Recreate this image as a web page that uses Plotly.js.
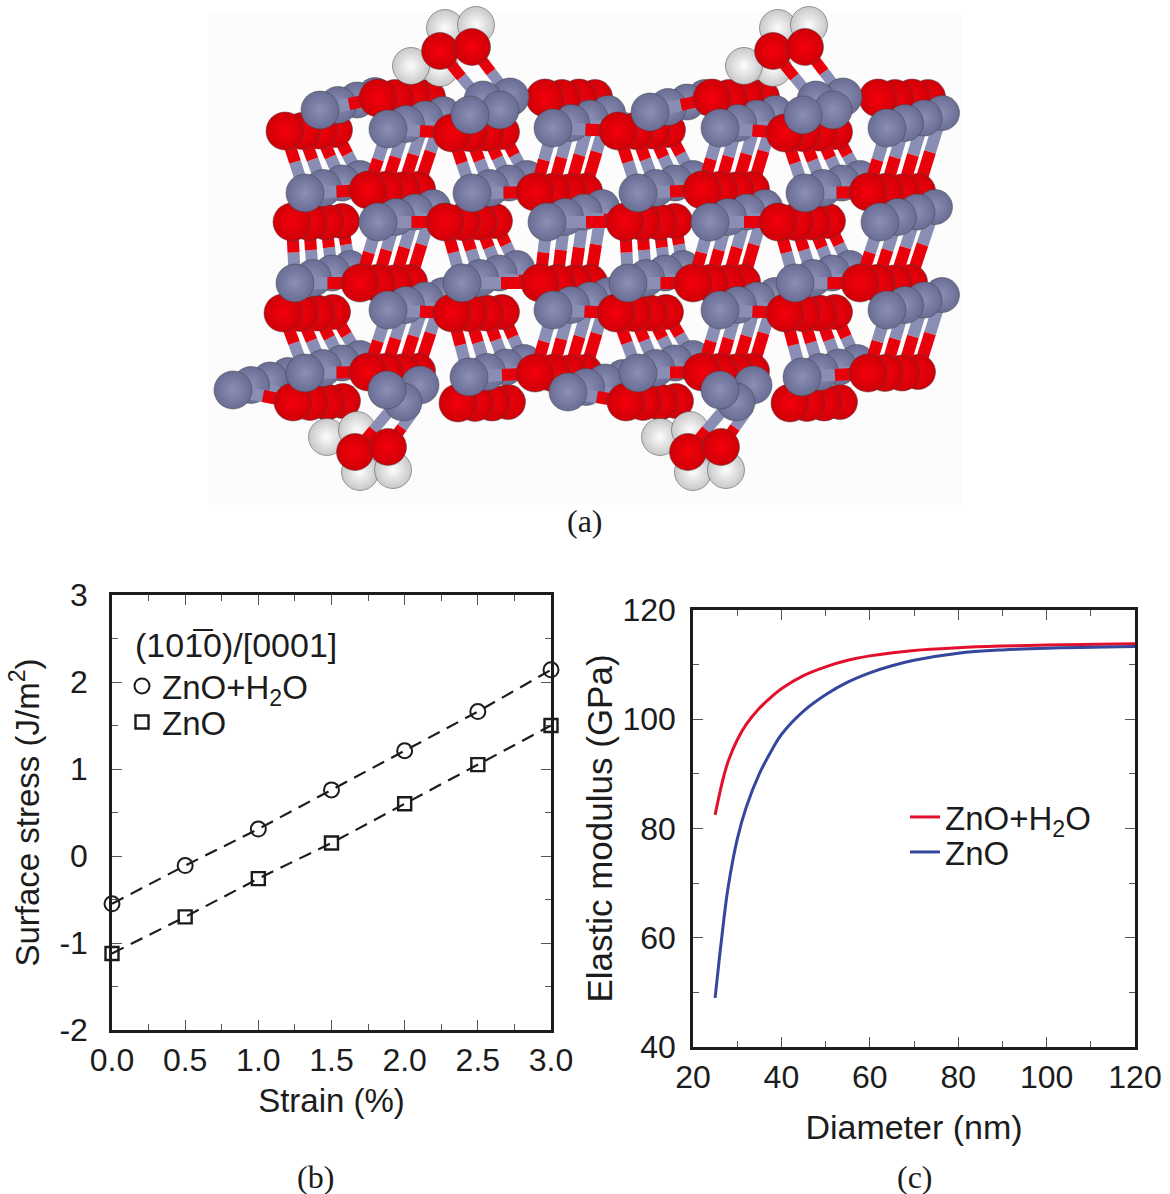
<!DOCTYPE html>
<html><head><meta charset="utf-8">
<script src="https://cdn.plot.ly/plotly-3.0.1.min.js"></script>
<style>html,body{margin:0;padding:0;background:#fff}</style></head>
<body><div id="chart" style="width:1170px;height:1194px"></div>
<script>
// ---- panel (b)
const strain=[0,0.5,1,1.5,2,2.5,3];
const strainLabels=['0.0','0.5','1.0','1.5','2.0','2.5','3.0'];
const stressTicks=[-2,-1,0,1,2,3];
const stressLabels=['-2','-1','0','1','2','3'];
const stressWater=[-0.55,-0.11,0.31,0.76,1.21,1.66,2.14];
const stressBare=[-1.12,-0.70,-0.26,0.15,0.60,1.05,1.50];
// ---- panel (c)
const diamWater=[25,26,27,28,30,32,35,38,40,45,50,55,60,70,80,90,100,120];
const modWater=[82.5,86.3,89.7,92.4,96.2,99,102,104.3,105.6,108,109.6,110.8,111.6,112.6,113.1,113.4,113.6,113.8];
const diamBare=[25,26,27,28,30,32,35,38,40,45,50,55,60,65,70,80,90,100,120];
const modBare=[49,56.5,63.5,69.5,78,83.8,90,94.6,97.2,101.5,104.5,106.8,108.5,109.8,110.8,112.1,112.7,113,113.3];
// ---- panel (a): atoms, rows top to bottom, Z = zinc, O = oxygen, . = empty
const rowElements=['ZO.OZO.O','OZOZOZOZ','ZOZOZOZO','OZOZOZOZ','ZOZOZOZO','OZOZOZOZ','ZOZOZOZO','ZO.OZO.O'];
const frontX=[[320,378,null,545,650,712,null,878],[285,388,452,553,618,720,785,887],[305,368,472,535,638,702,805,868],[292,378,445,547,625,710,778,880],[295,360,462,540,628,693,795,860],[283,388,452,553,616,720,785,887],[305,368,469,535,638,702,802,868],[233,293,null,458,568,626,null,790]];
const frontY=[[110,98,null,98,112,98,null,98],[131,129,133,128,131,128,133,128],[193,190,193,192,193,190,193,192],[222,222,222,222,222,222,222,222],[283,283,283,283,283,283,283,283],[313,310,313,310,313,310,313,310],[373,372,377,373,373,372,377,373],[390,402,null,403,392,402,null,403]];
const depth1X=[[338,395,null,562,668,729,null,895],[302,406,469,571,635,738,802,905],[323,385,490,552,656,719,823,885],[309,396,462,565,642,728,795,898],[313,377,480,557,646,710,813,877],[300,406,469,571,633,738,802,905],[323,385,487,552,656,719,820,885],[251,310,null,475,586,643,null,807]];
const depth1Y=[[105,98,null,98,107,98,null,98],[131,124,133,123,131,123,133,123],[188,190,188,192,188,190,188,192],[222,217,222,217,222,217,222,217],[278,283,278,283,278,283,278,283],[313,305,313,305,313,305,313,305],[368,372,372,373,368,372,372,373],[385,402,null,403,387,402,null,403]];
const depth2X=[[357,412,null,579,687,746,null,912],[319,425,486,590,652,757,819,924],[342,402,509,569,675,736,842,902],[326,415,479,584,659,747,812,917],[332,394,499,574,665,727,832,894],[317,425,486,590,650,757,819,924],[342,402,506,569,675,736,839,902],[270,327,null,492,605,660,null,824]];
const depth2Y=[[100,97,null,97,102,97,null,97],[131,119,133,118,131,118,133,118],[183,190,183,192,183,190,183,192],[222,212,222,212,222,212,222,212],[273,283,273,283,273,283,273,283],[313,300,313,300,313,300,313,300],[363,372,367,373,363,372,367,373],[380,402,null,403,382,402,null,403]];
const depth3X=[[375,428,null,595,705,762,null,928],[335,443,502,608,668,775,835,942],[360,418,527,585,693,752,860,918],[342,433,495,602,675,765,828,935],[350,410,517,590,683,743,850,910],[333,443,502,608,666,775,835,942],[360,418,524,585,693,752,857,918],[288,343,null,508,623,676,null,840]];
const depth3Y=[[95,97,null,97,97,97,null,97],[130,114,132,113,130,113,132,113],[178,189,178,191,178,189,178,191],[221,207,221,207,221,207,221,207],[268,282,268,282,268,282,268,282],[312,295,312,295,312,295,312,295],[358,371,362,372,358,371,362,372],[375,401,null,402,377,401,null,402]];
// water groups
const waterHX=[445,476,440,411, 778,809,773,744, 327,357,360,393, 660,690,693,726];
const waterHY=[28,25,68,66, 28,25,68,66, 437,430,472,470, 437,430,472,470];
const waterOX=[440,472, 773,805, 355,388, 688,721];
const waterOY=[51,47, 51,47, 452,447, 452,447];
const waterZnX=[510,483,500,470, 843,816,833,803, 420,403,387, 753,736,720];
const waterZnY=[97,100,110,115, 97,100,110,115, 385,402,390, 385,402,390];
const waterBondX=[[440,483],[472,510],[773,816],[805,843],[355,392],[388,416],[688,725],[721,749]];
const waterBondY=[[51,103],[47,97],[51,103],[47,97],[452,408],[447,408],[452,408],[447,408]];

const FONT='"Liberation Sans",Arial,sans-serif', INK='#1c1c1c';
const ZN='#696c94', ZNC='#8c90b4', OX='#cf0008', OXC='#f4000a', H='#c8c8c8', HC='#fdfdfd';
const traces=[];
function atomTrace(x,y,e,c,size){return {type:'scatter',mode:'markers',x,y,xaxis:'x3',yaxis:'y3',showlegend:false,hoverinfo:'skip',cliponaxis:false,
  marker:{size,color:e,gradient:{type:'radial',color:c},line:{width:0.5,color:'#444'}}};}
function bondTrace(x,y,color,w){return {type:'scatter',mode:'lines',x,y,xaxis:'x3',yaxis:'y3',showlegend:false,hoverinfo:'skip',line:{color,width:w}};}
const layers=[[depth3X,depth3Y,35],[depth2X,depth2Y,36],[depth1X,depth1Y,37],[frontX,frontY,38]];
layers.forEach(([X,Y,size])=>{
  const gx=[],gy=[],rx=[],ry=[];
  function bond(r1,c1,r2,c2){
    const a=rowElements[r1][c1],b=rowElements[r2][c2];
    if(a==='.'||b==='.')return;
    const x1=X[r1][c1],y1=Y[r1][c1],x2=X[r2][c2],y2=Y[r2][c2],mx=(x1+x2)/2,my=(y1+y2)/2;
    const znFirst=a==='Z';
    gx.push(znFirst?x1:x2,mx,null);gy.push(znFirst?y1:y2,my,null);
    rx.push(znFirst?x2:x1,mx,null);ry.push(znFirst?y2:y1,my,null);
  }
  [[1,2],[3,4],[5,6]].forEach(([a,b])=>{for(let c=0;c<8;c++)bond(a,c,b,c);});
  for(let r=0;r<8;r++)for(let c=0;c<7;c++)if(rowElements[r][c]==='Z'&&rowElements[r][c+1]==='O')bond(r,c,r,c+1);
  traces.push(bondTrace(gx,gy,'#8a8eb4',12),bondTrace(rx,ry,'#e8000a',12));
  const zx=[],zy=[],ox=[],oy=[];
  rowElements.forEach((row,r)=>row.split('').forEach((el,c)=>{
    if(el==='Z'){zx.push(X[r][c]);zy.push(Y[r][c]);}
    if(el==='O'){ox.push(X[r][c]);oy.push(Y[r][c]);}
  }));
  traces.push(atomTrace(ox,oy,OX,OXC,size),atomTrace(zx,zy,ZN,ZNC,size));
});
// water on top
traces.push(atomTrace(waterHX,waterHY,H,HC,37));
const wgx=[],wgy=[],wrx=[],wry=[];
waterBondX.forEach((bx,i)=>{const by=waterBondY[i],mx=(bx[0]+bx[1])/2,my=(by[0]+by[1])/2;
  wrx.push(bx[0],mx,null);wry.push(by[0],my,null);wgx.push(mx,bx[1],null);wgy.push(my,by[1],null);});
traces.push(bondTrace(wgx,wgy,'#8a8eb4',11),bondTrace(wrx,wry,'#e8000a',11));
traces.push(atomTrace(waterZnX,waterZnY,ZN,ZNC,38),atomTrace(waterOX,waterOY,OX,OXC,37));

// panel b
const dash='13px,8px';
traces.push({x:strain,y:stressWater,mode:'lines',xaxis:'x',yaxis:'y',showlegend:false,cliponaxis:false,line:{color:INK,width:2.2,dash}});
traces.push({x:strain,y:stressBare,mode:'lines',xaxis:'x',yaxis:'y',showlegend:false,cliponaxis:false,line:{color:INK,width:2.2,dash}});
traces.push({x:strain,y:stressWater,name:'ZnO+H<sub>2</sub>O',mode:'markers',xaxis:'x',yaxis:'y',legend:'legend',cliponaxis:false,marker:{symbol:'circle-open',size:15,color:INK,line:{width:2,color:INK}}});
traces.push({x:strain,y:stressBare,name:'ZnO',mode:'markers',xaxis:'x',yaxis:'y',legend:'legend3',cliponaxis:false,marker:{symbol:'square-open',size:13,color:INK,line:{width:2.4,color:INK}}});
// panel c
traces.push({x:diamWater,y:modWater,name:'ZnO+H<sub>2</sub>O',mode:'lines',xaxis:'x2',yaxis:'y2',legend:'legend2',line:{color:'#e2102c',width:3,shape:'spline',smoothing:1}});
traces.push({x:diamBare,y:modBare,name:'ZnO',mode:'lines',xaxis:'x2',yaxis:'y2',legend:'legend4',line:{color:'#34479c',width:3,shape:'spline',smoothing:1}});

const W=1170,HT=1194;
const minorTick=d=>({dtick:d,ticks:'inside',ticklen:6,tickwidth:1.2,tickcolor:'#555'});
function axis(extra){return Object.assign({showline:true,mirror:'allticks',linecolor:INK,linewidth:2.5,ticks:'inside',ticklen:10,tickwidth:1.2,tickcolor:'#555',
  showgrid:false,zeroline:false,tickfont:{family:FONT,size:32,color:INK},fixedrange:true},extra);}
const ttl=(text,standoff,size)=>({text,standoff,font:{family:FONT,size,color:INK}});
const caption=(text,x,y)=>({text,x:x/W,y:1-y/HT,xref:'paper',yref:'paper',showarrow:false,xanchor:'center',yanchor:'middle',font:{family:'"Liberation Serif",serif',size:32,color:INK}});
const leg=(x,y)=>({x:x/W,y:1-y/HT,xanchor:'left',yanchor:'middle',bgcolor:'rgba(0,0,0,0)',font:{family:FONT,size:33,color:INK},itemwidth:30,itemclick:false,itemdoubleclick:false});
const layout={width:W,height:HT,autosize:false,margin:{l:0,r:0,t:0,b:0},paper_bgcolor:'#fff',plot_bgcolor:'rgba(0,0,0,0)',
  xaxis:axis({domain:[112/W,551/W],range:[0,3],tickmode:'array',tickvals:strain,ticktext:strainLabels,minor:minorTick(0.25),anchor:'y',title:ttl('Strain (%)',12,33)}),
  yaxis:axis({domain:[(HT-1030)/HT,(HT-595)/HT],range:[-2,3],tickmode:'array',tickvals:stressTicks,ticktext:stressLabels,ticklabelstandoff:15,minor:minorTick(0.5),anchor:'x',title:ttl('Surface stress (J/m<sup>2</sup>)',10,33)}),
  xaxis2:axis({domain:[693/W,1135/W],range:[20,120],dtick:20,tick0:20,minor:minorTick(10),anchor:'y2',title:ttl('Diameter (nm)',22,34)}),
  yaxis2:axis({domain:[(HT-1047)/HT,(HT-610)/HT],range:[40,120],dtick:20,tick0:40,ticklabelstandoff:8,minor:minorTick(10),anchor:'x2',title:ttl('Elastic modulus (GPa)',0,35)}),
  xaxis3:{domain:[0,1],range:[0,W],visible:false,fixedrange:true,anchor:'y3'},
  yaxis3:{domain:[0,1],range:[HT,0],visible:false,fixedrange:true,anchor:'x3'},
  legend:leg(122,686),legend3:leg(122,722),legend2:leg(905,817),legend4:leg(905,852),
  shapes:[{type:'rect',xref:'paper',yref:'paper',x0:208/W,x1:962/W,y0:1-505/HT,y1:1-12/HT,fillcolor:'#fcfcfc',line:{width:0},layer:'below'}],
  annotations:[caption('(a)',585,521),caption('(b)',315,1177),caption('(c)',915,1177),
   {text:'(101\u03050)/[0001]',x:133/W,y:1-645/HT,xref:'paper',yref:'paper',showarrow:false,xanchor:'left',yanchor:'middle',font:{family:FONT,size:34,color:INK}}]
};
Plotly.newPlot('chart',traces,layout,{displayModeBar:false});
</script></body></html>
